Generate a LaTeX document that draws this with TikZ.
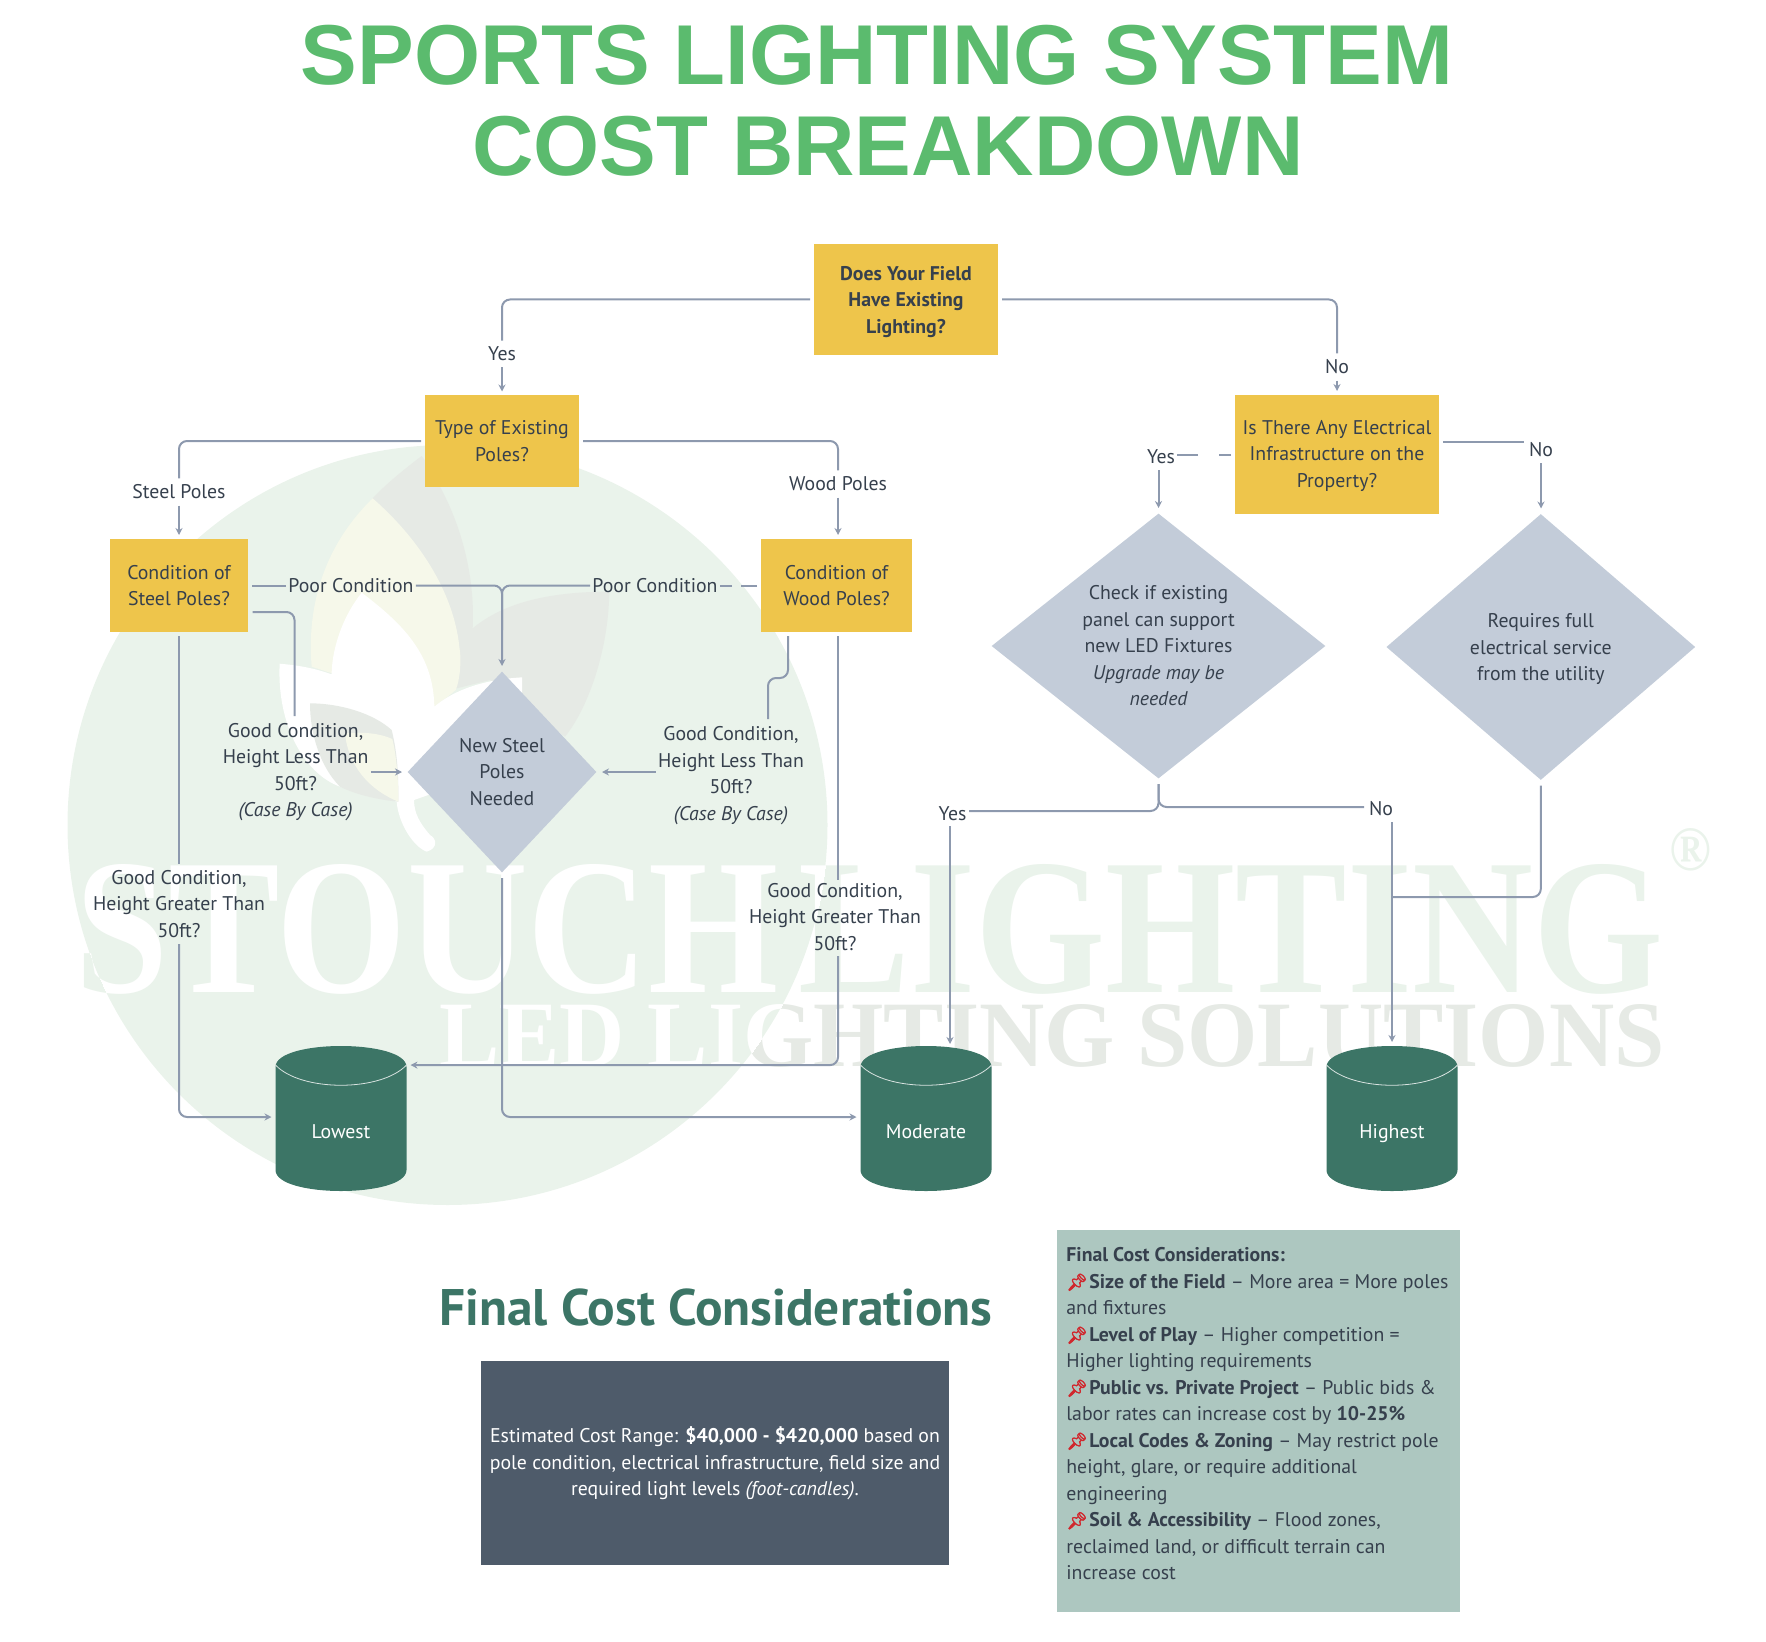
\documentclass[tikz,border=0pt]{standalone}
\usepackage{fontspec}
\setmainfont{PT Sans}
\newfontfamily\arialf{Liberation Sans}
\newfontfamily\timesf{Liberation Serif}
\newfontfamily\emojif[FakeBold=3,Scale=0.85]{Noto Emoji}
\usetikzlibrary{shapes.geometric,arrows.meta}
\definecolor{ytitle}{HTML}{5BBB6E}
\definecolor{yel}{HTML}{EEC54B}
\definecolor{dia}{HTML}{C3CCD9}
\definecolor{ink}{HTML}{36404D}
\definecolor{linec}{HTML}{8D99AE}
\definecolor{cyl}{HTML}{3C7566}
\definecolor{dark}{HTML}{4E5B6A}
\definecolor{sage}{HTML}{ADC7C0}
\definecolor{pale}{HTML}{EAF3EB}
\definecolor{wgray}{HTML}{E6EAE5}
\definecolor{wyel}{HTML}{F6F8EA}
\definecolor{pin}{HTML}{D0282E}
\tikzset{
  base/.style={font=\fontsize{9.9}{13.25}\selectfont,text=ink,align=center,inner sep=0pt},
  ybox/.style={base,fill=yel,outer sep=2pt},
  lab/.style={base,inner xsep=1pt,inner ysep=3pt},
  conn/.style={draw=linec,line width=1pt,rounded corners=4pt},
  arr/.style={conn,-{Stealth[length=3.5pt,width=3.5pt]}},
  tank/.style={base,text=white,minimum width=65.5pt,minimum height=72.5pt,outer sep=2pt},
  tankline/.style={draw=white!80!cyl,line width=0.4pt},
}
\newcommand{\pinmark}{{\color{pin}\emojif\char"1F4CC}\hspace{0.8pt}}
\newcommand{\lowr}[1]{\rule{0pt}{#1}}
\newcommand{\tanktext}[1]{\raisebox{-10pt}[0pt][0pt]{#1}}
\newcommand{\wmone}{\resizebox{793.5pt}{64pt}{\timesf\bfseries STOUCH\hspace{0.12em}LIGHTING}}
\newcommand{\wmtwo}{\resizebox{612.5pt}{31pt}{\timesf\bfseries LED LIGHTING SOLUTIONS}}
\newcommand{\tankshape}[1]{%
  \fill[cyl] (#1-65.5,1067) .. controls (#1-65.5,1039) and (#1+65.5,1039) .. (#1+65.5,1067) -- (#1+65.5,1170) .. controls (#1+65.5,1198) and (#1-65.5,1198) .. (#1-65.5,1170) -- cycle;
  \draw[tankline] (#1-65.5,1065) .. controls (#1-40,1092) and (#1+40,1092) .. (#1+65.5,1065);}
\begin{document}
\begin{tikzpicture}[x=0.5pt,y=-0.5pt]
\useasboundingbox (0,0) rectangle (1766,1642);
% watermark
\node[anchor=south west,inner sep=0pt,text=pale] (wma) at (75,995) {\wmone};
\node[anchor=south west,inner sep=0pt,text=wgray] (wmb) at (439,1068) {\wmtwo};
\node[inner sep=0pt,text=pale] (wmr) at (1690,850) {\resizebox{21pt}{21pt}{\timesf\bfseries ®}};
\fill[pale] (447.5,825) circle (380);
\begin{scope}[x=0.16667pt,y=-0.16667pt,xshift=145pt,yshift=-220pt]
  \fill[wgray] (248,175) .. controls (290,130) and (340,90) .. (395,48) .. controls (420,80) and (440,120) .. (450,140) .. controls (520,270) and (555,420) .. (548,565) .. controls (650,480) and (800,455) .. (958,455) .. controls (955,640) and (890,810) .. (825,890) -- (600,720) -- (500,745) -- cycle;
  \fill[wyel] (248,175) .. controls (100,320) and (50,500) .. (65,680) -- (433,800) .. controls (460,780) and (480,765) .. (497,750) .. controls (510,720) and (515,660) .. (508,620) .. controls (490,450) and (380,290) .. (248,175) -- cycle;
  \fill[white] (215,458) .. controls (150,540) and (125,640) .. (125,703) .. controls (60,680) and (10,675) .. (-31,671) .. controls (-40,850) and (40,1000) .. (150,1040) -- (320,1085) .. controls (325,1150) and (370,1220) .. (410,1235) .. controls (445,1225) and (440,1195) .. (420,1185) .. controls (390,1150) and (372,1120) .. (372,1080) -- (600,1000) -- (696,760) -- (696,712) .. controls (560,720) and (480,760) .. (433,800) .. controls (430,650) and (350,560) .. (215,458) -- cycle;
  \fill[wgray] (60,790) .. controls (150,790) and (250,820) .. (305,870) .. controls (325,950) and (325,1020) .. (325,1085) .. controls (270,1080) and (200,1065) .. (150,1040) .. controls (90,980) and (60,880) .. (60,790) -- cycle;
  \fill[wyel] (165,880) .. controls (220,875) and (270,880) .. (307,897) .. controls (320,950) and (325,1020) .. (325,1085) .. controls (240,1050) and (175,980) .. (165,880) -- cycle;
\end{scope}
\begin{scope}
  \clip (447.5,825) circle (380);
  \node[anchor=south west,inner sep=0pt,text=white] (wmc) at (75,995) {\wmone};
  \node[anchor=south west,inner sep=0pt,text=white] (wmd) at (439,1068) {\wmtwo};
\end{scope}
% title
\node[inner sep=0pt,align=center,text=ytitle,font=\arialf\bfseries\fontsize{42.5}{45.5}\selectfont] (title) at (877,101) {SPORTS LIGHTING SYSTEM\\\hspace*{11pt}COST BREAKDOWN};
% boxes
\node[ybox,minimum width=92pt,minimum height=55.5pt] (top) at (906,299.5) {\lowr{9.5pt}\bfseries Does Your Field\\\bfseries Have Existing\\\bfseries Lighting?};
\node[ybox,minimum width=77pt,minimum height=45.5pt] (type) at (502,441) {Type of Existing\\Poles?};
\node[ybox,minimum width=69pt,minimum height=46.5pt] (steel) at (179,585.5) {Condition of\\Steel Poles?};
\node[ybox,minimum width=75.5pt,minimum height=46.5pt] (wood) at (836.5,585.5) {Condition of\\Wood Poles?};
\node[ybox,minimum width=102pt,minimum height=59.5pt] (elec) at (1337,454.5) {\lowr{8.5pt}Is There Any Electrical\\Infrastructure on the\\Property?};
% diamonds
\node[base,fill=dia,outer sep=2pt,diamond,aspect=0.93,minimum width=96pt,minimum height=102pt] (newp) at (502,772) {New Steel\\Poles\\Needed};
\node[base,fill=dia,outer sep=2pt,diamond,aspect=1.25,minimum width=168.5pt,minimum height=134pt] (check) at (1158.5,646) {Check if existing\\panel can support\\new LED Fixtures\\\itshape Upgrade may be\\\itshape needed};
\node[base,fill=dia,outer sep=2pt,diamond,aspect=1.15,minimum width=156pt,minimum height=134.5pt] (req) at (1540.8,647) {\lowr{9.5pt}Requires full\\electrical service\\from the utility};
% tanks
\tankshape{341}
\tankshape{926}
\tankshape{1392}
\node[tank] (low) at (341,1118.5) {\tanktext{Lowest}};
\node[tank] (mod) at (926,1118.5) {\tanktext{Moderate}};
\node[tank] (high) at (1392,1118.5) {\tanktext{Highest}};
% labels
\node[lab] (yes1) at (502,354) {Yes};
\node[lab] (no1) at (1337,367) {No};
\node[lab] (steelp) at (179,492) {Steel Poles};
\node[lab] (woodp) at (838,484) {Wood Poles};
\node[lab] (poor1) at (351,585.5) {Poor Condition};
\node[lab] (poor2) at (655,585.5) {Poor Condition};
\node[lab] (gless1) at (295.6,772) {Good Condition,\\Height Less Than\\50ft?\\\itshape(Case By Case)};
\node[lab] (gless2) at (731,775.5) {Good Condition,\\Height Less Than\\50ft?\\\itshape(Case By Case)};
\node[lab] (gmore1) at (179,904) {Good Condition,\\Height Greater Than\\50ft?};
\node[lab] (gmore2) at (835,917) {Good Condition,\\Height Greater Than\\50ft?};
\node[lab] (yes2) at (1161,457) {Yes};
\node[lab] (no2) at (1541,449.5) {No};
\node[lab] (yes3) at (952.5,813.7) {Yes};
\node[lab] (no3) at (1381,809) {No};
% connectors
\draw[conn] (top.west) -| (yes1.north);
\draw[arr] (yes1.south) -- (type.north);
\draw[conn] (top.east) -| (no1.north);
\draw[arr] (no1.south) -- (elec.north);
\draw[conn] (type.west) -| (steelp.north);
\draw[arr] (steelp.south) -- (steel.north);
\draw[conn] (type.east) -| (woodp.north);
\draw[arr] (woodp.south) -- (woodp.south |- wood.north);
\draw[conn] (steel.east) -- (poor1.west);
\coordinate (j1) at (502,630);
\draw[conn] (poor1.east) -| (j1);
\draw[arr] (poor2.west) -| (newp.north);
\coordinate (g1a) at (741,585.5);
\coordinate (g1b) at (732,585.5);
\draw[conn] (wood.west) -- (g1a);
\draw[conn] (g1b) -- (poor2.east);
\coordinate (s2) at (252.6,612);
\coordinate (t1) at (294.5,716);
\draw[conn] (s2) -| (t1);
\draw[arr] (gless1.east |- newp.west) -- (newp.west);
\coordinate (w2) at (788,636);
\coordinate (w3) at (768,719);
\coordinate (w4) at (788,678);
\coordinate (w5) at (768,678);
\draw[conn] (w2) -- (w4) -- (w5) -- (w3);
\draw[arr] (gless2.west |- newp.east) -- (newp.east);
\draw[conn] (steel.south) -- (gmore1.north);
\draw[arr] (gmore1.south) |- ([yshift=0.75pt]low.west);
\coordinate (w6) at (838,636);
\coordinate (w7) at (838,880);
\coordinate (w8) at (838,956);
\draw[conn] (w6) -- (w7);
\draw[arr] (w8) |- ([yshift=26.7pt]low.east);
\draw[arr] (newp.south) |- ([yshift=0.75pt]mod.west);
\coordinate (c1) at (969,811);
\coordinate (c2) at (1364,807);
\draw[conn] (check.south) |- (c1);
\draw[conn] (check.south) |- (c2);
\coordinate (y3d) at (950,826);
\coordinate (y3e) at (950,1044);
\draw[arr] (y3d) -- (y3e);
\coordinate (n3d) at (1392,822);
\draw[arr] (n3d) -- (high.north);
\coordinate (r1) at (1392,897);
\draw[conn] (req.south) |- (r1);
\coordinate (e1) at (1219,454.5);
\coordinate (e2) at (1198,454.5);
\draw[conn] (elec.west) -- (e1);
\draw[conn] (e2) -- (yes2.east |- e2);
\draw[arr] (yes2.south -| check.north) -- (check.north);
\coordinate (en) at (1524,442);
\draw[conn] (elec.east |- en) -- (en);
\draw[arr] (no2.south) -- (no2.south |- req.north);
% bottom
\node[inner sep=0pt,text=cyl,font=\bfseries\fontsize{25.7}{30}\selectfont] (fc) at (716,1307) {Final Cost Considerations};
\node[base,fill=dark,text=white,minimum width=234pt,minimum height=102pt] (range) at (715,1463) {\lowr{8.5pt}Estimated Cost Range: \textbf{\$40,000 - \$420,000} based on\\pole condition, electrical infrastructure, field size and\\required light levels \textit{(foot-candles)}.};
\node[fill=sage,minimum width=201.5pt,minimum height=191pt,inner sep=0pt] (sagebox) at (1258,1421) {};
\node[base,anchor=north west,align=left] (sagetext) at (1066,1247) {\textbf{Final Cost Considerations:}\\
\pinmark\textbf{Size of the Field} – More area = More poles\\
and fixtures\\
\pinmark\textbf{Level of Play} – Higher competition =\\
Higher lighting requirements\\
\pinmark\textbf{Public vs. Private Project} – Public bids \&\\
labor rates can increase cost by \textbf{10-25\%}\\
\pinmark\textbf{Local Codes \& Zoning} – May restrict pole\\
height, glare, or require additional\\
engineering\\
\pinmark\textbf{Soil \& Accessibility} – Flood zones,\\
reclaimed land, or difficult terrain can\\
increase cost};
\end{tikzpicture}
\end{document}
